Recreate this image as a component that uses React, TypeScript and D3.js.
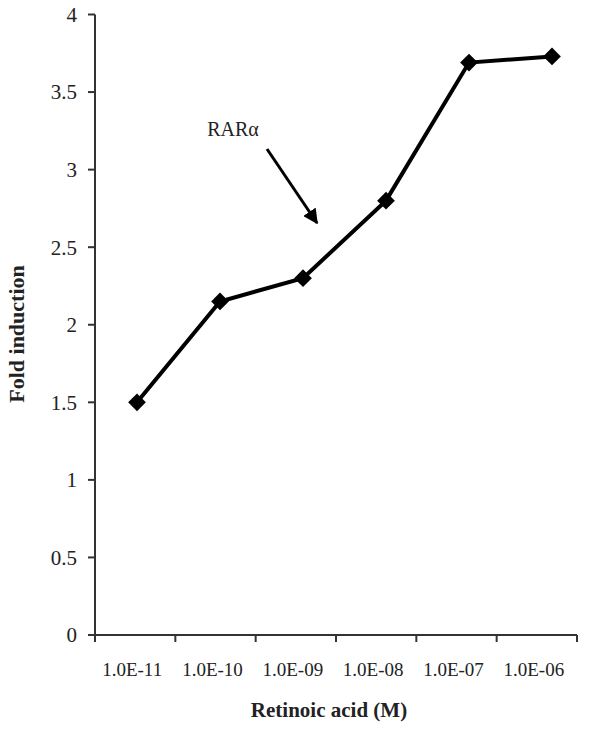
import React from "react";
import * as d3 from "d3";

const categories = ["1.0E-11", "1.0E-10", "1.0E-09", "1.0E-08", "1.0E-07", "1.0E-06"];
const foldInduction = [1.5, 2.15, 2.3, 2.8, 3.69, 3.73];
const yTicks = [0, 0.5, 1, 1.5, 2, 2.5, 3, 3.5, 4];
const annotationLabel = "RARα";

export default function App() {
  const W = 601, H = 729;
  const left = 95, right = 577, top = 14.5, bottom = 635;
  const y = d3.scaleLinear().domain([0, 4]).range([bottom, top]);
  const xBand = d3.scaleBand<string>().domain(categories).range([left, right]).padding(0);
  const xPt = d3.scalePoint<string>().domain(categories).range([137, 552]);
  const line = d3.line<number>()
    .x((_, i) => xPt(categories[i])!)
    .y((d) => y(d));
  const diamond = d3.symbol().type(d3.symbolDiamond2).size(200)();
  const font = "'Liberation Serif', 'Times New Roman', serif";
  const boundaries = [left, ...categories.map((c) => xBand(c)! + xBand.bandwidth())];
  return (
    <svg width={W} height={H} style={{ position: "absolute", left: 0, top: 0, background: "#fff" }} fontFamily={font}>
      <defs>
        <marker id="ah" viewBox="0 0 10 10" refX="9" refY="5" markerWidth="5" markerHeight="5" orient="auto">
          <path d="M0,0 L10,5 L0,10 z" fill="#000" />
        </marker>
      </defs>
      {/* y axis */}
      <line x1={left} x2={left} y1={top} y2={bottom} stroke="#333" strokeWidth={2} />
      {yTicks.map((t) => (
        <g key={t}>
          <line x1={left - 7} x2={left} y1={y(t)} y2={y(t)} stroke="#333" strokeWidth={2} />
          <text x={77} y={y(t)} dy="0.35em" textAnchor="end" fontSize={21} fill="#222">{t}</text>
        </g>
      ))}
      {/* x axis */}
      <line x1={left} x2={right} y1={bottom} y2={bottom} stroke="#333" strokeWidth={2} />
      {boundaries.map((b, i) => (
        <line key={i} x1={b} x2={b} y1={bottom} y2={bottom + 7} stroke="#333" strokeWidth={2} />
      ))}
      {categories.map((c) => (
        <text key={c} x={xBand(c)! + xBand.bandwidth() / 2 - 3} y={676} textAnchor="middle" fontSize={19} fill="#222">{c}</text>
      ))}
      <text x={329} y={717} textAnchor="middle" fontSize={21} fontWeight="bold" fill="#222">Retinoic acid (M)</text>
      <text transform={`translate(24, 334) rotate(-90)`} textAnchor="middle" fontSize={22} fontWeight="bold" fill="#222">Fold induction</text>
      {/* series */}
      <path d={line(foldInduction)!} fill="none" stroke="#000" strokeWidth={4} />
      {foldInduction.map((v, i) => (
        <path key={i} d={diamond!} transform={`translate(${xPt(categories[i])},${y(v)})`} fill="#000" />
      ))}
      {/* annotation */}
      <text x={233} y={136} textAnchor="middle" fontSize={20} fill="#222">{annotationLabel}</text>
      <line x1={267} y1={149} x2={317} y2={223} stroke="#000" strokeWidth={3} markerEnd="url(#ah)" />
    </svg>
  );
}
